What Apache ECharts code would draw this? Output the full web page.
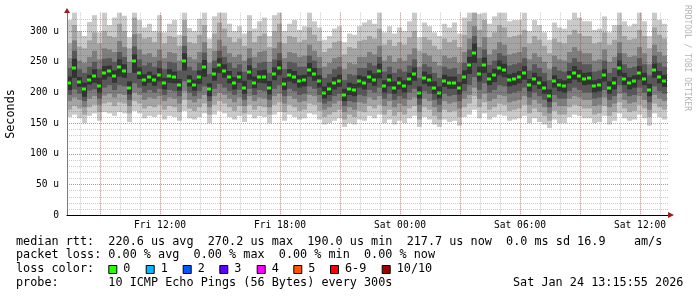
<!DOCTYPE html>
<html><head><meta charset="utf-8">
<script src="https://cdn.jsdelivr.net/npm/echarts@6/dist/echarts.min.js"></script>
<style>html,body{margin:0;padding:0;background:#fff}#c{width:697px;height:297px}</style>
</head><body><div id="c"></div>
<script>
// time axis in hours since Fri 00:00, one sample every 15 minutes
const startHour = 7.35, endHour = 37.45, stepHours = 0.25;

// median rtt (microseconds)
const median = [
215,240,217,205,221,227,210,232,235,227,
241,235,208,251,232,220,225,220,229,215,
227,225,213,252,219,212,225,241,205,230,
245,235,225,215,225,208,233,216,226,226,
208,230,240,214,228,225,218,220,237,230,
218,200,206,215,219,196,206,204,218,215,
226,221,235,210,220,208,215,210,222,230,
200,224,220,208,200,219,216,216,207,225,
245,265,230,245,222,228,240,236,220,222,
225,232,212,222,216,208,195,218,212,210,
225,232,227,222,223,210,212,228,208,215,
240,222,215,218,232,222,204,236,225,219];

// sorted pings p1 (fastest) ... p10 (slowest)
const p1 = [
160,164,158,150,162,166,154,168,166,162,
168,166,152,170,166,158,162,160,164,156,
162,160,154,170,158,156,160,166,150,164,
170,166,160,156,162,152,164,158,162,160,
150,164,168,154,164,160,156,158,166,164,
156,148,150,154,158,144,150,148,156,154,
162,158,164,150,156,148,154,150,158,162,
144,160,156,148,144,156,152,154,146,160,
164,172,158,166,156,160,164,162,154,156,
158,162,150,158,152,148,142,156,150,150,
160,164,162,158,158,150,152,162,148,154,
166,158,154,156,164,158,146,166,160,156];
const p2 = [
172,178,174,164,176,180,168,182,184,178,
184,182,166,186,182,174,178,176,180,172,
178,176,168,188,174,170,176,182,164,180,
186,182,176,170,178,166,180,172,178,176,
164,180,184,168,180,176,170,172,182,180,
170,160,164,168,172,156,164,160,170,168,
178,174,180,164,172,162,168,164,174,178,
156,176,172,162,156,172,168,170,160,176,
182,194,176,184,172,176,182,180,170,172,
174,180,166,174,168,162,154,170,164,164,
176,180,178,174,174,164,166,178,162,168,
184,174,168,170,180,174,160,182,176,172];
const p3 = [
186,192,188,176,190,194,180,195,198,192,
198,196,178,200,196,188,192,190,194,186,
192,190,182,202,188,184,190,196,176,194,
200,196,190,184,192,178,194,186,192,190,
176,194,198,182,194,190,184,186,196,194,
184,172,176,182,186,168,176,172,184,182,
192,188,194,178,186,176,182,178,188,192,
168,190,186,176,168,186,182,184,174,190,
196,208,190,198,186,190,196,194,184,186,
188,194,180,188,182,176,166,184,178,178,
190,194,192,188,188,178,180,192,176,182,
198,188,182,184,194,188,172,196,190,186];
const p4 = [
196,205,198,186,203,205,190,208,212,204,
212,210,188,215,208,200,204,200,206,196,
204,202,194,218,200,194,202,210,186,206,
214,208,202,196,204,188,206,196,204,202,
188,206,212,194,206,202,196,198,210,206,
196,182,186,194,198,178,186,184,196,194,
204,200,208,190,198,188,194,190,200,206,
180,202,198,188,180,198,194,196,186,202,
212,225,204,215,200,204,212,210,198,200,
202,208,192,200,194,188,176,196,190,190,
202,208,204,200,200,190,192,204,188,194,
212,200,194,196,208,200,184,210,202,198];
const p5 = [
204,224,209,193,213,216,199,221,226,216,
226,224,197,232,222,211,216,211,218,205,
216,215,203,236,210,203,214,226,194,219,
232,224,215,205,216,198,221,207,216,215,
197,220,228,204,218,215,208,210,226,219,
208,190,196,205,209,186,196,194,208,205,
216,211,223,200,210,198,205,200,212,219,
190,214,210,198,190,209,206,206,197,214,
230,248,218,232,212,217,228,225,210,212,
215,221,202,212,206,198,185,208,202,200,
215,221,217,212,213,200,202,218,198,205,
227,212,205,208,221,212,194,224,215,209];
const p6 = [
226,255,225,216,229,238,224,243,244,236,
254,246,218,262,241,230,234,229,240,224,
238,234,222,264,228,221,236,253,215,240,
256,246,235,225,234,219,244,226,236,237,
219,241,252,224,238,235,228,229,248,240,
228,210,216,225,229,206,216,214,228,226,
236,231,247,220,230,218,225,220,232,241,
210,234,230,218,210,229,226,226,217,236,
258,280,242,257,232,239,252,247,230,232,
235,243,222,232,226,218,205,228,222,220,
235,243,237,232,233,220,222,238,218,225,
252,232,225,228,243,232,214,247,235,229];
const p7 = [
240,268,238,232,242,250,238,255,256,250,
266,258,232,275,254,244,248,242,252,238,
250,248,236,276,242,236,248,265,230,252,
268,258,248,240,246,234,256,240,248,250,
232,254,264,238,250,248,242,242,260,252,
240,224,230,238,242,220,230,228,240,240,
248,244,258,234,242,232,238,234,244,254,
224,246,242,232,224,242,238,240,230,248,
270,292,256,270,245,252,264,260,244,246,
248,256,236,246,240,232,220,242,236,234,
248,256,250,246,246,234,236,252,232,240,
264,246,240,242,256,246,228,260,248,242];
const p8 = [
256,285,252,248,258,268,254,272,270,266,
284,274,250,295,270,262,264,258,270,256,
266,264,252,292,258,254,266,282,248,268,
286,276,264,258,262,252,272,258,266,268,
250,272,282,256,266,264,258,260,278,268,
258,242,248,256,258,238,248,246,258,258,
266,262,276,252,260,250,256,252,262,272,
242,264,260,250,244,260,256,258,248,266,
288,308,274,290,262,270,282,278,262,264,
266,274,254,264,258,250,238,260,254,252,
266,274,268,264,264,252,254,270,250,258,
282,264,258,260,274,264,246,278,266,260];
const p9 = [
280,310,275,272,285,298,280,300,292,290,
312,300,272,322,296,288,290,282,298,280,
292,290,276,318,282,280,294,310,272,296,
314,304,290,282,288,276,300,282,292,296,
274,300,312,280,292,290,282,286,306,294,
284,266,272,282,284,262,274,272,284,286,
292,288,304,278,286,276,282,278,290,300,
268,290,286,276,270,288,282,286,274,294,
316,330,302,318,290,298,310,306,290,292,
294,302,280,292,286,276,264,288,282,280,
294,302,296,292,292,280,282,298,278,286,
310,292,286,288,302,292,272,306,294,288];
const p10 = [
318,332,300,292,315,326,298,340,310,322,
345,325,290,350,318,306,312,300,326,298,
312,318,294,345,305,300,320,334,288,324,
340,330,312,300,308,296,326,304,316,322,
292,326,338,300,312,318,302,308,332,316,
306,286,292,304,308,282,296,294,308,314,
318,312,336,298,308,296,306,300,316,330,
290,314,308,298,292,312,306,314,296,322,
345,360,328,346,312,324,336,332,316,318,
318,330,300,318,310,298,286,314,306,304,
318,330,322,316,316,302,304,324,298,310,
338,316,308,312,330,316,292,334,318,312];

const tickHours = [12, 18, 24, 30, 36];
const tickLabels = ['Fri 12:00', 'Fri 18:00', 'Sat 00:00', 'Sat 06:00', 'Sat 12:00'];

const lossLabels = ['0', '1', '2', '3', '4', '5', '6-9', '10/10'];
const lossColors = ['#26ff00', '#00b8ff', '#0059ff', '#5e00ff', '#ff00ff', '#ff5500', '#ff0000', '#a10000'];

const statLines = [
  'median rtt:  220.6 us avg  270.2 us max  190.0 us min  217.7 us now  0.0 ms sd 16.9    am/s',
  'packet loss: 0.00 % avg  0.00 % max  0.00 % min  0.00 % now',
  'loss color:',
  'probe:       10 ICMP Echo Pings (56 Bytes) every 300s'
];
const stampText = 'Sat Jan 24 13:15:55 2026';
const watermark = 'RRDTOOL / TOBI OETIKER';

// ---------- layout / style ----------
const MONO = '"DejaVu Sans Mono", monospace';
const bands = [
  [p1, p10, '#cacaca'],
  [p2, p9, '#a4a4a4'],
  [p3, p8, '#7e7e7e'],
  [p4, p7, '#585858'],
  [p5, p6, '#323232']
];
const timeOf = i => startHour + (i + 0.5) * stepHours;

function bandRender(color) {
  return function (params, api) {
    const t = api.value(0), lo = api.value(1), hi = api.value(2);
    const a = api.coord([t - stepHours / 2, hi]);
    const b = api.coord([t + stepHours / 2, lo]);
    const x0 = Math.round(a[0]), x1 = Math.round(b[0]);
    const cs = params.coordSys;
    const shape = echarts.graphic.clipRectByRect(
      {x: x0, y: a[1], width: x1 - x0, height: b[1] - a[1]},
      {x: cs.x, y: cs.y, width: cs.width, height: cs.height});
    return shape && {type: 'rect', shape: shape, style: {fill: color}};
  };
}
function medianRender(params, api) {
  const t = api.value(0), m = api.value(1);
  const a = api.coord([t - stepHours / 2, m]);
  const b = api.coord([t + stepHours / 2, m]);
  const x0 = Math.round(a[0]), x1 = Math.round(b[0]);
  return {type: 'rect', shape: {x: x0, y: Math.round(a[1]) - 1.5, width: x1 - x0 - 1, height: 3},
          style: {fill: lossColors[0]}};
}

const series = bands.map(([lo, hi, color]) => ({
  type: 'custom', xAxisIndex: 2, yAxisIndex: 1, silent: true,
  renderItem: bandRender(color),
  encode: {x: 0, y: [1, 2]},
  data: lo.map((v, i) => [timeOf(i), v, hi[i]])
}));
series.push({
  type: 'custom', xAxisIndex: 2, yAxisIndex: 1, silent: true,
  renderItem: medianRender, encode: {x: 0, y: 1},
  data: median.map((v, i) => [timeOf(i), v])
});

const minorLine = {show: true, showMinLine: false, showMaxLine: false,
  lineStyle: {color: 'rgba(90,90,90,0.32)', width: 1, type: [1, 1]}};
const majorLine = {show: true, showMinLine: false, showMaxLine: false,
  lineStyle: {color: 'rgba(225,0,0,0.32)', width: 1, type: [1, 1]}};
const hidden = {axisLine: {show: false}, axisTick: {show: false}, axisLabel: {show: false}};

const graphics = [];
graphics.push({type: 'text', x: 687, y: 5, rotation: -Math.PI / 2,
  style: {text: watermark, font: '8px ' + MONO, fill: '#b4b4b4', align: 'left', verticalAlign: 'middle'}});
const lineY = [241.5, 255.2, 269, 283.3];
statLines.forEach((s, k) => graphics.push({type: 'text', x: 16, y: lineY[k],
  style: {text: s, font: '11.8px ' + MONO, fill: '#000', verticalAlign: 'middle'}}));
graphics.push({type: 'text', x: 513, y: lineY[3],
  style: {text: stampText, font: '11.8px ' + MONO, fill: '#000', verticalAlign: 'middle'}});
const boxX = [108.3, 145.7, 182.7, 219.3, 256.7, 293.3, 330, 381.7];
lossLabels.forEach((lab, k) => {
  graphics.push({type: 'rect', shape: {x: boxX[k] + 0.5, y: 265.5, width: 8, height: 8},
    style: {fill: lossColors[k], stroke: '#000', lineWidth: 1}});
  graphics.push({type: 'text', x: boxX[k] + 15, y: lineY[2],
    style: {text: lab, font: '11.8px ' + MONO, fill: '#000', verticalAlign: 'middle'}});
});
// axis arrows
graphics.push({type: 'polygon', shape: {points: [[64, 13], [70, 13], [67, 8]]}, style: {fill: '#9a1c1c'}, z: 20});
graphics.push({type: 'polygon', shape: {points: [[668, 212], [668, 218], [674, 215]]}, style: {fill: '#9a1c1c'}, z: 20});

const chart = echarts.init(document.getElementById('c'), null, {renderer: 'canvas'});
chart.setOption({
  animation: false,
  backgroundColor: '#fff',
  grid: {left: 67, right: 28, top: 12.7, bottom: 81.7, containLabel: false, outerBoundsMode: 'none'},
  xAxis: [
    Object.assign({type: 'value', min: startHour, max: endHour, minInterval: 1, maxInterval: 1,
      position: 'bottom', z: 5, splitLine: minorLine}, hidden),
    Object.assign({type: 'value', min: startHour, max: endHour, minInterval: 3, maxInterval: 3,
      position: 'bottom', z: 6, splitLine: majorLine}, hidden),
    {type: 'value', min: startHour, max: endHour, minInterval: 6, maxInterval: 6,
      position: 'bottom', z: 7, splitLine: {show: false},
      axisLine: {show: true, onZero: false, lineStyle: {color: '#000', width: 1}},
      axisTick: {show: false},
      axisLabel: {show: true, margin: 5, showMinLabel: false, showMaxLabel: false,
        fontFamily: MONO, fontSize: 9.6, color: '#000',
        formatter: v => { const k = tickHours.indexOf(Math.round(v * 1000) / 1000); return k >= 0 ? tickLabels[k] : ''; }}}
  ],
  yAxis: [
    Object.assign({type: 'value', position: 'left', min: 0, max: 330, interval: 10, z: 5, splitLine: minorLine}, hidden),
    {type: 'value', position: 'left', min: 0, max: 330, interval: 50, z: 6, splitLine: majorLine,
      axisLine: {show: true, onZero: false, lineStyle: {color: '#7a7a7a', width: 1}},
      axisTick: {show: false},
      axisLabel: {show: true, margin: 8, showMaxLabel: false, fontFamily: MONO, fontSize: 9.6, color: '#000',
        formatter: v => (v % 50 !== 0 ? '' : (v === 0 ? '0' : v + ' u'))},
      name: 'Seconds', nameLocation: 'middle', nameGap: 50, nameRotate: 90,
      nameTextStyle: {fontFamily: MONO, fontSize: 11.8, color: '#000'}}
  ],
  series: series,
  graphic: graphics
});
</script></body></html>
